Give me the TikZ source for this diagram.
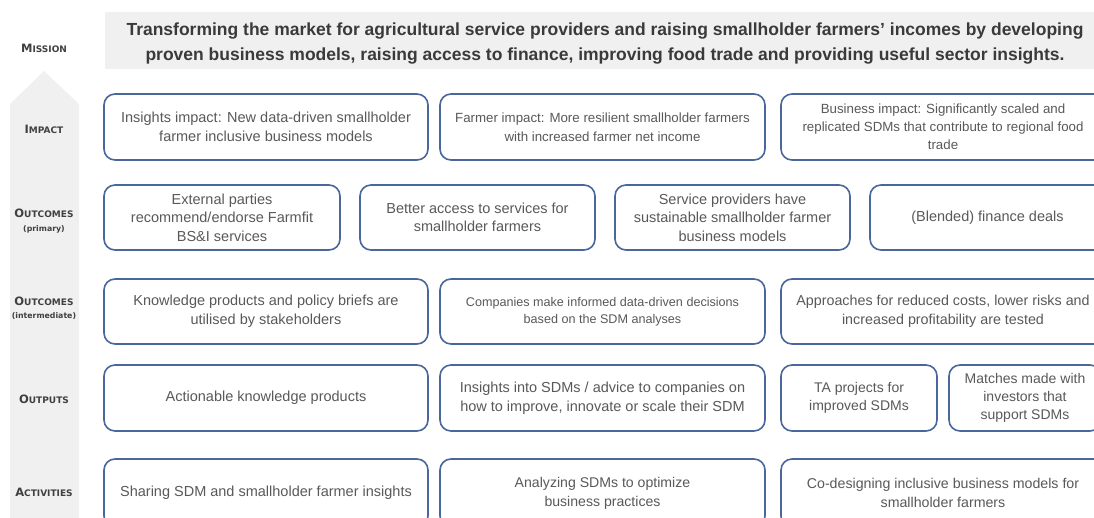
\documentclass[tikz,border=0pt]{standalone}
\usepackage{fontspec}
\setmainfont{Liberation Sans}
\newfontfamily\labfont{DejaVu Sans}
\definecolor{boxblue}{HTML}{4A679C}
\definecolor{txtgray}{HTML}{595959}
\definecolor{labgray}{HTML}{404040}
\definecolor{misgray}{HTML}{3A3A3A}
\definecolor{bggray}{HTML}{F0F0F0}
\newcommand{\myfs}[2]{\fontsize{#1}{#2}\selectfont}
\newcommand{\labsc}[2]{{\labfont\bfseries\fontsize{11.5}{12}\selectfont #1\fontsize{9}{12}\selectfont #2}}
\begin{document}
\begin{tikzpicture}[x=1pt,y=-1pt,
  box/.style={draw=boxblue, line width=1.6pt, rounded corners=11pt, fill=white,
    align=center, text=txtgray, inner sep=0pt, font=\myfs{14.5}{18.5}},
  lab/.style={text=labgray, align=center, inner sep=0pt},
  sub/.style={text=labgray, align=center, inner sep=0pt, font=\labfont\bfseries\myfs{7.8}{9}}]
\useasboundingbox (0,0) rectangle (1094,518);
\clip (0,0) rectangle (1094,518);
% background arrow
\fill[bggray] (44,71) -- (79,104) -- (79,530) -- (10,530) -- (10,104) -- cycle;
% mission
\node[fill=bggray, inner sep=0pt, minimum width=1000pt, minimum height=57pt] (missionbg) at (605,40.5) {};
\node[inner sep=0pt, align=center, text=misgray, font=\bfseries\myfs{17.5}{25}] (mission) at (605,43.5)
  {Transforming the market for agricultural service providers and raising smallholder farmers’ incomes by developing\\
   proven business models, raising access to finance, improving food trade and providing useful sector insights.};
% left labels
\node[lab] (lmission) at (44,48) {\labsc{M}{ISSION}};
\node[lab] (limpact) at (44,129) {\labsc{I}{MPACT}};
\node[lab] (lprim) at (44,213) {\labsc{O}{UTCOMES}};
\node[sub] (lprimsub) at (44,229) {(primary)};
\node[lab] (linter) at (44,301) {\labsc{O}{UTCOMES}};
\node[sub] (lintersub) at (44,316) {(intermediate)};
\node[lab] (loutputs) at (44,399) {\labsc{O}{UTPUTS}};
\node[lab] (lact) at (44,492) {\labsc{A}{CTIVITIES}};
% impact row
\node[box, minimum width=324pt, minimum height=66pt] (imp1) at (266,127)
  {Insights impact: New data-driven smallholder\\farmer inclusive business models};
\node[box, minimum width=325pt, minimum height=66pt, font=\myfs{13.3}{18.5}] (imp2) at (602.5,127)
  {Farmer impact: More resilient smallholder farmers\\with increased farmer net income};
\node[box, minimum width=324pt, minimum height=66pt, font=\myfs{13.3}{18}] (imp3) at (943,127)
  {Business impact: Significantly scaled and\\replicated SDMs that contribute to regional food\\trade};
% outcomes primary
\node[box, minimum width=236pt, minimum height=65pt] (pri1) at (222,217.5)
  {External parties\\recommend/endorse Farmfit\\BS\&I services};
\node[box, minimum width=235pt, minimum height=65pt] (pri2) at (477.5,217.5)
  {Better access to services for\\smallholder farmers};
\node[box, minimum width=235pt, minimum height=65pt] (pri3) at (732.5,217.5)
  {Service providers have\\sustainable smallholder farmer\\business models};
\node[box, minimum width=235pt, minimum height=65pt] (pri4) at (987.5,217.5)
  {(Blended) finance deals};
% outcomes intermediate
\node[box, minimum width=324pt, minimum height=65pt] (int1) at (266,311.5)
  {Knowledge products and policy briefs are\\utilised by stakeholders};
\node[box, minimum width=325pt, minimum height=65pt, font=\myfs{12.6}{16.5}] (int2) at (602.5,311.5)
  {Companies make informed data-driven decisions\\based on the SDM analyses};
\node[box, minimum width=324pt, minimum height=65pt, font=\myfs{14.3}{18.5}] (int3) at (943,311.5)
  {Approaches for reduced costs, lower risks and\\increased profitability are tested};
% outputs
\node[box, minimum width=324pt, minimum height=66pt] (out1) at (266,398)
  {Actionable knowledge products};
\node[box, minimum width=325pt, minimum height=66pt] (out2) at (602.5,398)
  {Insights into SDMs / advice to companies on\\how to improve, innovate or scale their SDM};
\node[box, minimum width=156pt, minimum height=66pt, font=\myfs{14}{18}] (out3) at (859,398)
  {TA projects for\\improved SDMs};
\node[box, minimum width=152pt, minimum height=66pt, font=\myfs{14}{18}] (out4) at (1025,398)
  {Matches made with\\investors that\\support SDMs};
% activities
\node[box, minimum width=324pt, minimum height=68pt] (act1) at (266,493)
  {Sharing SDM and smallholder farmer insights};
\node[box, minimum width=325pt, minimum height=68pt, font=\myfs{14.1}{19}] (act2) at (602.5,493)
  {Analyzing SDMs to optimize\\business practices};
\node[box, minimum width=324pt, minimum height=68pt, font=\myfs{14.2}{18.5}] (act3) at (943,493)
  {Co-designing inclusive business models for\\smallholder farmers};
\end{tikzpicture}
\end{document}
